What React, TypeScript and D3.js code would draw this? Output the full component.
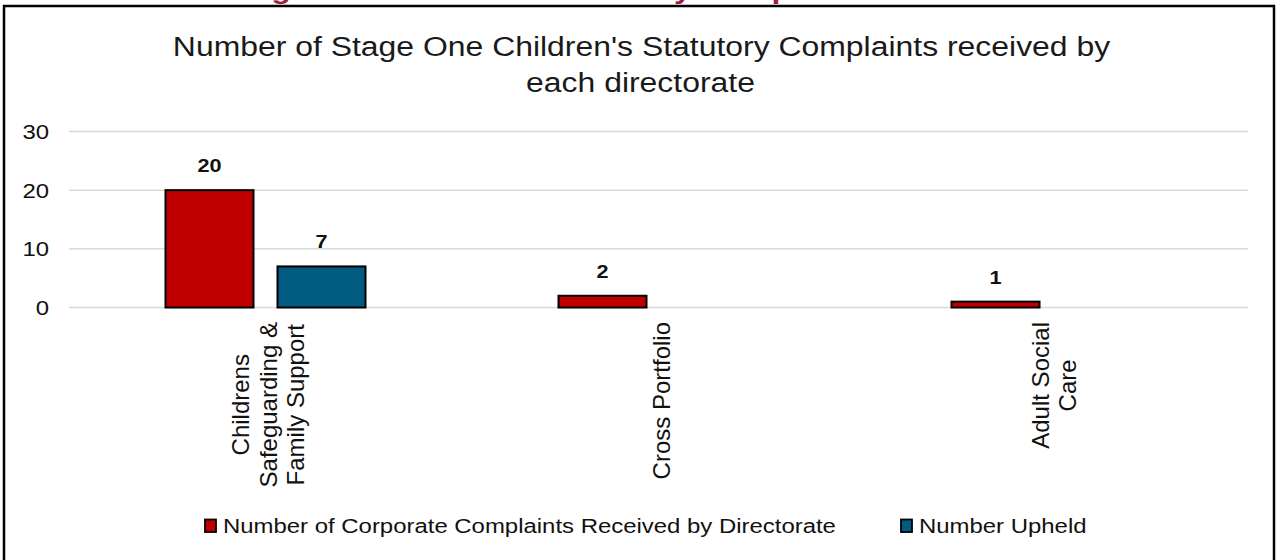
import { useEffect, useRef } from 'react';
import * as d3 from 'd3';

const categories = [
  ['Childrens', 'Safeguarding &', 'Family Support'],
  ['Cross Portfolio'],
  ['Adult Social', 'Care'],
];
const received = [20, 2, 1];
const upheld = [7, null, null];
const seriesNames = ['Number of Corporate Complaints Received by Directorate', 'Number Upheld'];
const seriesColors = ['#C00000', '#025C82'];
const yTicks = [0, 10, 20, 30];
const titleLines = ["Number of Stage One Children's Statutory Complaints received by", 'each directorate'];
const heading = "Number of Stage One Children's Statutory Complaints Received";

const W = 1278;
const H = 560;
const SX = 1.14; // the horizontal text in the chart is a little wide

export default function App() {
  const ref = useRef<SVGSVGElement | null>(null);

  useEffect(() => {
    const svg = d3.select(ref.current);
    svg.selectAll('*').remove();
    svg.attr('width', W).attr('height', H).style('font-family', 'Arial, "Liberation Sans", sans-serif');

    svg.append('rect').attr('width', W).attr('height', H).attr('fill', 'white');

    const hText = (x: number, yy: number, txt: string | number, size: number, anchor = 'start') =>
      svg.append('text')
        .attr('transform', `translate(${x},${yy}) scale(${SX},1)`)
        .attr('text-anchor', anchor).attr('font-size', size).attr('fill', '#111')
        .text(txt);

    // heading of the page above, mostly cut off by the top edge
    const hd = svg.append('text')
      .attr('y', -1)
      .attr('font-size', 26).attr('font-weight', 'bold').attr('fill', '#A01D3C')
      .text(heading);
    const node = hd.node() as SVGTextElement;
    const gi = heading.indexOf('g');
    const yi = heading.indexOf('y');
    const posG = node.getSubStringLength(0, gi) + node.getSubStringLength(gi, 1) / 2;
    const posY = node.getSubStringLength(0, yi) + node.getSubStringLength(yi, 1) / 2;
    const hs = (683 - 281) / (posY - posG);
    hd.attr('transform', `translate(${281 - hs * posG},0) scale(${hs},1)`);

    // frame
    svg.append('rect')
      .attr('x', 4).attr('y', 6).attr('width', W - 8).attr('height', H)
      .attr('fill', 'none').attr('stroke', '#000').attr('stroke-width', 2.5);

    // title
    hText(641.5, 56, titleLines[0], 28, 'middle').attr('fill', '#1a1a1a');
    hText(640.5, 92, titleLines[1], 28, 'middle').attr('fill', '#1a1a1a');

    const left = 69, right = 1248;
    const x = d3.scaleBand<number>().domain(d3.range(categories.length)).range([left, right]);
    const y = d3.scaleLinear().domain([0, 30]).range([307.5, 131.5]);
    const inner = d3.scaleBand<number>().domain([0, 1]).range([0, 200]).paddingInner(24 / 112);

    // grid
    svg.append('g').selectAll('line').data(yTicks).enter().append('line')
      .attr('x1', left).attr('x2', right)
      .attr('y1', d => y(d)).attr('y2', d => y(d))
      .attr('stroke', '#D9D9D9').attr('stroke-width', 1.5);

    yTicks.forEach(t => hText(49, y(t) + 7.5, t, 21, 'end'));

    const series = [received, upheld];
    series.forEach((vals, si) => {
      vals.forEach((v, ci) => {
        if (v == null) return;
        const bx = x(ci)! + x.bandwidth() / 2 - 100 + inner(si)!;
        svg.append('rect')
          .attr('x', bx).attr('y', y(v))
          .attr('width', inner.bandwidth()).attr('height', y(0) - y(v))
          .attr('fill', seriesColors[si]).attr('stroke', '#000').attr('stroke-width', 2);
        hText(bx + inner.bandwidth() / 2, y(v) - 18, v, 19, 'middle').attr('font-weight', 'bold');
      });
    });

    // category labels (rotated, centred on the longest line)
    categories.forEach((lines, ci) => {
      const cx = x(ci)! + x.bandwidth() / 2 + 8;
      const g = svg.append('g');
      const texts = lines.map(l => g.append('text').attr('font-size', 24).attr('fill', '#111').attr('text-anchor', 'middle').text(l));
      const maxLen = d3.max(texts, t => (t.node() as SVGTextElement).getComputedTextLength()) || 0;
      const centerY = 322 + maxLen / 2;
      const lh = 27.5;
      texts.forEach((t, i) => {
        const lx = cx + (i - (lines.length - 1) / 2) * lh + 3;
        t.attr('transform', `translate(${lx},${centerY}) rotate(-90)`);
      });
    });

    // legend
    const legendItems = [{ x: 205, i: 0 }, { x: 901, i: 1 }];
    legendItems.forEach(it => {
      svg.append('rect')
        .attr('x', it.x).attr('y', 519.5).attr('width', 11).attr('height', 12.5)
        .attr('fill', seriesColors[it.i]).attr('stroke', '#000').attr('stroke-width', 1.8);
      hText(it.x + 18, 533, seriesNames[it.i], 21);
    });
  }, []);

  return (
    <div style={{ position: 'fixed', left: 0, top: 0 }}>
      <svg ref={ref} style={{ display: 'block' }}></svg>
    </div>
  );
}
